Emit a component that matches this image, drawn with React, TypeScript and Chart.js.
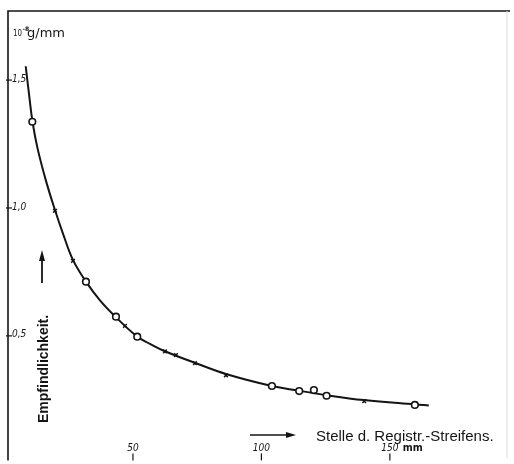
import React, { useEffect, useRef } from "react";
import { Chart, registerables } from "chart.js";

Chart.register(...registerables);

// Smooth curve (mm, 10^-8 g/mm)
const curveX = [8.25, 9.53, 10.89, 12.84, 16.15, 19.65, 22.76, 26.65, 31.71, 37.16, 43.39, 51.56, 56.61, 62.45, 73.74, 86.19, 104.09, 114.59, 125.49, 139.88, 159.73, 165.18];
const curveY = [1.554, 1.446, 1.338, 1.234, 1.106, 0.992, 0.900, 0.797, 0.712, 0.639, 0.573, 0.498, 0.469, 0.440, 0.396, 0.351, 0.304, 0.286, 0.268, 0.249, 0.232, 0.228];

// Circle measurements
const circleX = [10.82, 31.71, 43.39, 51.67, 104.09, 114.71, 120.43, 125.37, 159.73];
const circleY = [1.337, 0.712, 0.575, 0.497, 0.304, 0.284, 0.288, 0.266, 0.230];

// Cross measurements
const crossX = [19.65, 26.65, 46.89, 62.45, 66.73, 74.12, 86.19, 140.0];
const crossY = [0.989, 0.793, 0.539, 0.439, 0.425, 0.393, 0.346, 0.245];

// Tick labels
const yTicks = [1.5, 1.0, 0.5];
const yTickLabels = ["1,5", "1,0", "0,5"];
const xTicks = [50, 100, 150];
const xTickLabels = ["50", "100", "150"];

const yUnit = "g/mm";
const xLabel = "Stelle d. Registr.-Streifens.";
const yLabel = "Empfindlichkeit.";

const INK = "#141414";

const zip = (xs: number[], ys: number[]) => xs.map((x, i) => ({ x, y: ys[i] }));

export default function App() {
  const ref = useRef<HTMLCanvasElement | null>(null);

  useEffect(() => {
    if (!ref.current) return;

    const decor = {
      id: "decor",
      afterDraw(chart: any) {
        const ctx = chart.ctx as CanvasRenderingContext2D;
        const xs = chart.scales.x;
        const ys = chart.scales.y;
        const a = chart.chartArea;
        ctx.save();
        ctx.strokeStyle = INK;
        ctx.fillStyle = INK;
        // frame
        ctx.lineWidth = 1.6;
        ctx.beginPath();
        ctx.moveTo(a.left, a.bottom + 2);
        ctx.lineTo(a.left, a.top);
        ctx.lineTo(a.right + 3, a.top);
        ctx.stroke();
        ctx.strokeStyle = "#dcdcdc";
        ctx.lineWidth = 1;
        ctx.beginPath();
        ctx.moveTo(a.right, a.top);
        ctx.lineTo(a.right, a.bottom);
        ctx.stroke();
        ctx.strokeStyle = INK;

        // y ticks
        ctx.lineWidth = 1.2;
        ctx.font = "italic 10px 'DejaVu Sans Condensed', 'DejaVu Sans'";
        ctx.textAlign = "left";
        ctx.textBaseline = "middle";
        yTicks.forEach((v, i) => {
          const py = ys.getPixelForValue(v);
          ctx.beginPath();
          ctx.moveTo(a.left - 2, py);
          ctx.lineTo(a.left + 4, py);
          ctx.stroke();
          ctx.fillText(yTickLabels[i], a.left + 4, py - 1);
        });

        // x ticks
        ctx.textAlign = "center";
        ctx.textBaseline = "middle";
        ctx.font = "italic 10px 'DejaVu Sans Condensed', 'DejaVu Sans'";
        xTicks.forEach((v, i) => {
          const px = xs.getPixelForValue(v);
          ctx.beginPath();
          ctx.moveTo(px, a.bottom - 5);
          ctx.lineTo(px, a.bottom + 2);
          ctx.stroke();
          ctx.fillText(xTickLabels[i], px, a.bottom - 10);
        });
        const p150 = xs.getPixelForValue(150);
        ctx.textAlign = "left";
        ctx.font = "bold 11px 'DejaVu Sans'";
        ctx.fillText("mm", p150 + 13, a.bottom - 10, 20);

        // unit label top-left
        ctx.textAlign = "left";
        ctx.textBaseline = "alphabetic";
        ctx.font = "8px 'DejaVu Sans'";
        ctx.fillText("10", a.left + 5, a.top + 25, 9);
        ctx.font = "bold 6px 'DejaVu Sans'";
        ctx.fillText("-8", a.left + 14.5, a.top + 19.5);
        ctx.font = "13px 'DejaVu Sans'";
        ctx.fillText(yUnit, a.left + 19, a.top + 26, 41);

        // x axis label with arrow
        const ay = 435;
        ctx.lineWidth = 1.6;
        ctx.beginPath();
        ctx.moveTo(250, ay);
        ctx.lineTo(289, ay);
        ctx.stroke();
        ctx.beginPath();
        ctx.moveTo(296, ay);
        ctx.lineTo(286, ay - 3);
        ctx.lineTo(286, ay + 3);
        ctx.closePath();
        ctx.fill();
        ctx.font = "15px 'Liberation Sans'";
        ctx.textBaseline = "alphabetic";
        ctx.fillText(xLabel, 316, 441, 184);

        // y axis label rotated with arrow
        ctx.save();
        ctx.translate(48, 423);
        ctx.rotate(-Math.PI / 2);
        ctx.font = "bold 14px 'Liberation Sans'";
        ctx.textAlign = "left";
        ctx.textBaseline = "alphabetic";
        ctx.fillText(yLabel, 0, 0, 126);
        ctx.restore();
        ctx.lineWidth = 1.8;
        ctx.beginPath();
        ctx.moveTo(42, 283);
        ctx.lineTo(42, 258);
        ctx.stroke();
        ctx.beginPath();
        ctx.moveTo(42, 250);
        ctx.lineTo(39, 261);
        ctx.lineTo(45, 261);
        ctx.closePath();
        ctx.fill();

        ctx.restore();
      },
    };

    const chart = new Chart(ref.current, {
      type: "scatter",
      data: {
        datasets: [
          {
            label: "circles",
            data: zip(circleX, circleY),
            showLine: false,
            pointStyle: "circle",
            pointRadius: 3.3,
            pointBackgroundColor: "#ffffff",
            pointBorderColor: INK,
            pointBorderWidth: 1.6,
          },
          {
            label: "crosses",
            data: zip(crossX, crossY),
            showLine: false,
            pointStyle: "crossRot",
            pointRadius: 2.6,
            pointBorderColor: INK,
            pointBorderWidth: 1.5,
          },
          {
            label: "curve",
            data: zip(curveX, curveY),
            showLine: true,
            borderColor: INK,
            borderWidth: 2,
            pointRadius: 0,
            tension: 0.4,
            fill: false,
          },
        ],
      },
      plugins: [decor],
      options: {
        animation: false,
        responsive: false,
        maintainAspectRatio: false,
        layout: { padding: { left: 8, top: 11, right: 7, bottom: 0 } },
        plugins: { legend: { display: false }, tooltip: { enabled: false } },
        scales: {
          x: { type: "linear", min: 1.36, max: 195.6, display: false },
          y: { type: "linear", min: 0.021, max: 1.77, display: false },
        },
      },
    });
    return () => chart.destroy();
  }, []);

  return (
    <div style={{ position: "fixed", left: 0, top: 0, width: 514, height: 464, background: "#fff" }}>
      <canvas ref={ref} width={514} height={464} style={{ width: 514, height: 464 }} />
    </div>
  );
}
